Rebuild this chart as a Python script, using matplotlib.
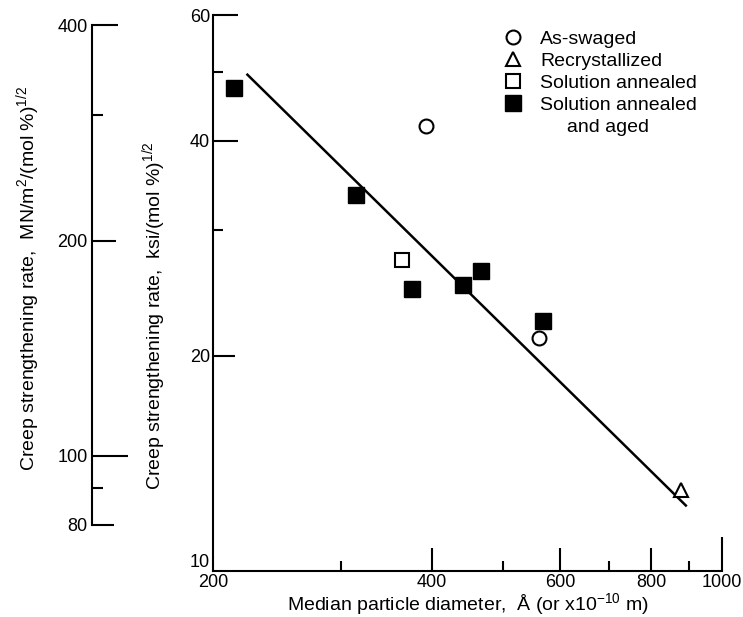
import matplotlib
matplotlib.use("Agg")
import matplotlib.pyplot as plt
from matplotlib.lines import Line2D
from matplotlib.ticker import FixedLocator, NullFormatter, FixedFormatter

# ---- data (log-log plot) ----
as_swaged_d = [392, 560]
as_swaged_rate = [42.0, 21.2]

recryst_d = [878]
recryst_rate = [13.0]

sol_ann_d = [364]
sol_ann_rate = [27.2]

sol_aged_d = [214, 314, 375, 441, 466, 567]
sol_aged_rate = [47.4, 33.6, 24.8, 25.1, 26.3, 22.4]

fit_d = [223, 892]
fit_rate = [49.5, 12.35]

x_major = [200, 400, 600, 800, 1000]
x_minor = [300, 500, 700, 900]
y_major = [10, 20, 40, 60]
y_minor = [30, 50]
mpa_major = [80, 100, 200, 400]
mpa_minor = [90, 300]

KSI_TO_MPA = 6.895

plt.rcParams['font.family'] = ['Liberation Sans', 'DejaVu Sans']
plt.rcParams['font.size'] = 13
plt.rcParams['mathtext.fontset'] = 'custom'
plt.rcParams['mathtext.rm'] = 'Liberation Sans'
plt.rcParams['mathtext.it'] = 'Liberation Sans:italic'

FS_TICK = 13
FS = 14

fig = plt.figure(figsize=(7.43, 6.17), dpi=100)
ax = fig.add_axes([213 / 743, 1 - 571 / 617, 509 / 743, 556 / 617])

ax.plot(fit_d, fit_rate, color='black', lw=1.8)
ax.plot(as_swaged_d, as_swaged_rate, 'o', ms=10, mfc='white', mec='black', mew=1.5,
        linestyle='none')
ax.plot(recryst_d, recryst_rate, '^', ms=10, mfc='white', mec='black', mew=1.5,
        linestyle='none')
ax.plot(sol_ann_d, sol_ann_rate, 's', ms=9.5, mfc='white', mec='black', mew=1.5,
        linestyle='none')
ax.plot(sol_aged_d, sol_aged_rate, 's', ms=11, mfc='black', mec='black',
        linestyle='none')

ax.set_xscale('log')
ax.set_yscale('log')
ax.set_xlim(x_major[0], x_major[-1])
ax.set_ylim(y_major[0], y_major[-1])

ax.xaxis.set_major_locator(FixedLocator(x_major))
ax.xaxis.set_major_formatter(FixedFormatter([str(v) for v in x_major]))
ax.xaxis.set_minor_locator(FixedLocator(x_minor))
ax.xaxis.set_minor_formatter(NullFormatter())
ax.yaxis.set_major_locator(FixedLocator(y_major))
ax.yaxis.set_major_formatter(FixedFormatter([str(v) for v in y_major]))
ax.yaxis.set_minor_locator(FixedLocator(y_minor))
ax.yaxis.set_minor_formatter(NullFormatter())

for s in ['top', 'right']:
    ax.spines[s].set_visible(False)
for s in ['left', 'bottom']:
    ax.spines[s].set_linewidth(1.5)

ax.tick_params(which='both', direction='in', width=1.5, labelsize=FS_TICK, pad=2)
ax.tick_params(which='major', length=17)
ax.tick_params(which='minor', length=7)

# individual tick lengths (px -> pt)
x_len = {200: 0, 400: 23, 600: 23, 800: 23, 1000: 34}
for t, v in zip(ax.xaxis.get_major_ticks(), x_major):
    t.tick1line.set_markersize(x_len[v] * 0.72)
y_len = {10: 0, 20: 22, 40: 25, 60: 25}
for t, v in zip(ax.yaxis.get_major_ticks(), y_major):
    t.tick1line.set_markersize(y_len[v] * 0.72)

fig.canvas.draw()
# the "10" sits just above the corner, "200" just below it
ax.get_yticklabels()[0].set_verticalalignment('bottom')

ax.set_xlabel(r"Median particle diameter,  Å (or x10$^{-10}$ m)", fontsize=FS, labelpad=0)
ax.set_ylabel(r"Creep strengthening rate,  ksi/(mol %)$^{1/2}$", fontsize=FS)
ax.yaxis.set_label_coords(-0.088, 0.46)

# legend
handles = [
    Line2D([], [], marker='o', ms=10, mfc='white', mec='black', mew=1.5, linestyle='none'),
    Line2D([], [], marker='^', ms=10, mfc='white', mec='black', mew=1.5, linestyle='none'),
    Line2D([], [], marker='s', ms=9.5, mfc='white', mec='black', mew=1.5, linestyle='none'),
    Line2D([], [], marker='s', ms=11, mfc='black', mec='black', linestyle='none'),
    Line2D([], [], linestyle='none'),
]
labels = ["As-swaged", "Recrystallized", "Solution annealed", "Solution annealed",
          "     and aged"]
ax.legend(handles, labels, loc='upper left', bbox_to_anchor=(0.57, 0.972),
          frameon=False, fontsize=FS, handlelength=1.0, handletextpad=0.9,
          labelspacing=0.22, borderpad=0, borderaxespad=0)

# secondary (SI) axis on the far left
ax2 = fig.add_axes([92 / 743, 1 - 571 / 617, 0.001, 556 / 617])
ax2.set_yscale('log')
ax2.set_ylim(y_major[0] * KSI_TO_MPA, y_major[-1] * KSI_TO_MPA)
ax2.set_xticks([])
for s in ['top', 'right', 'bottom']:
    ax2.spines[s].set_visible(False)
ax2.spines['left'].set_linewidth(1.5)
ax2.spines['left'].set_bounds(mpa_major[0], mpa_major[-1])
ax2.patch.set_visible(False)
ax2.yaxis.set_major_locator(FixedLocator(mpa_major))
ax2.yaxis.set_major_formatter(FixedFormatter([str(v) for v in mpa_major]))
ax2.yaxis.set_minor_locator(FixedLocator(mpa_minor))
ax2.yaxis.set_minor_formatter(NullFormatter())
ax2.tick_params(which='both', direction='in', width=1.5, labelsize=FS_TICK, pad=3)
ax2.tick_params(which='minor', length=8)
mpa_len = {80: 22, 100: 36, 200: 24, 400: 26}
for t, v in zip(ax2.yaxis.get_major_ticks(), mpa_major):
    t.tick1line.set_markersize(mpa_len[v] * 0.72)

fig.text(28 / 743, 1 - 278 / 617,
         r"Creep strengthening rate,  MN/m$^2$/(mol %)$^{1/2}$",
         rotation=90, ha='center', va='center', fontsize=FS)

fig.savefig("out.png", dpi=100)
